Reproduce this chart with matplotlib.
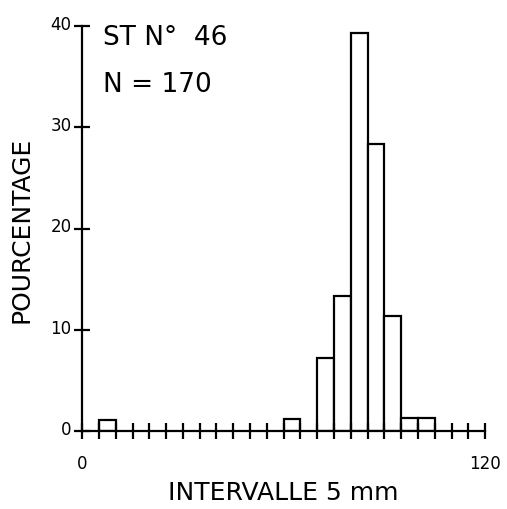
import matplotlib
matplotlib.use("Agg")
import matplotlib.pyplot as plt
from matplotlib.transforms import ScaledTranslation

bin_starts = [5, 60, 70, 75, 80, 85, 90, 95, 100]
percentages = [1.1, 1.2, 7.2, 13.3, 39.3, 28.3, 11.4, 1.3, 1.3]
bin_width = 5
x_ticks = list(range(0, 121, 5))
x_tick_labels = ["0" if t == 0 else ("120" if t == 120 else "") for t in x_ticks]
y_ticks = [0, 10, 20, 30, 40]
y_tick_labels = ["0", "10", "20", "30", "40"]

plt.rcParams['font.family'] = ['DejaVu Sans']

fig = plt.figure(figsize=(5.07, 5.10), dpi=100)
ax = fig.add_axes([0.162, 0.153, 0.795, 0.794])

ax.bar(bin_starts, percentages, width=bin_width, align='edge',
       facecolor='white', edgecolor='black', linewidth=1.6)

ax.set_xlim(0, 120)
ax.set_ylim(0, 40)
for s in ['top', 'right']:
    ax.spines[s].set_visible(False)
for s in ['left', 'bottom']:
    ax.spines[s].set_linewidth(1.6)

ax.set_xticks(x_ticks)
ax.set_xticklabels(x_tick_labels, fontsize=12)
ax.set_yticks(y_ticks)
ax.set_yticklabels(y_tick_labels, fontsize=12)
ax.tick_params(axis='both', direction='inout', length=11, width=1.6, pad=2)
ax.tick_params(axis='x', pad=11)
for lbl in ax.get_yticklabels():
    lbl.set_transform(lbl.get_transform() + ScaledTranslation(0, 4/100, fig.dpi_scale_trans))

ax.set_ylabel("POURCENTAGE", fontsize=18, labelpad=12)
ax.set_xlabel("INTERVALLE 5 mm", fontsize=18, labelpad=6)

ax.text(0.052, 0.956, "ST N°  46", transform=ax.transAxes, fontsize=19,
        va='baseline', ha='left')
ax.text(0.052, 0.84, "N = 170", transform=ax.transAxes, fontsize=19,
        va='baseline', ha='left')

fig.savefig("out.png", dpi=100)
